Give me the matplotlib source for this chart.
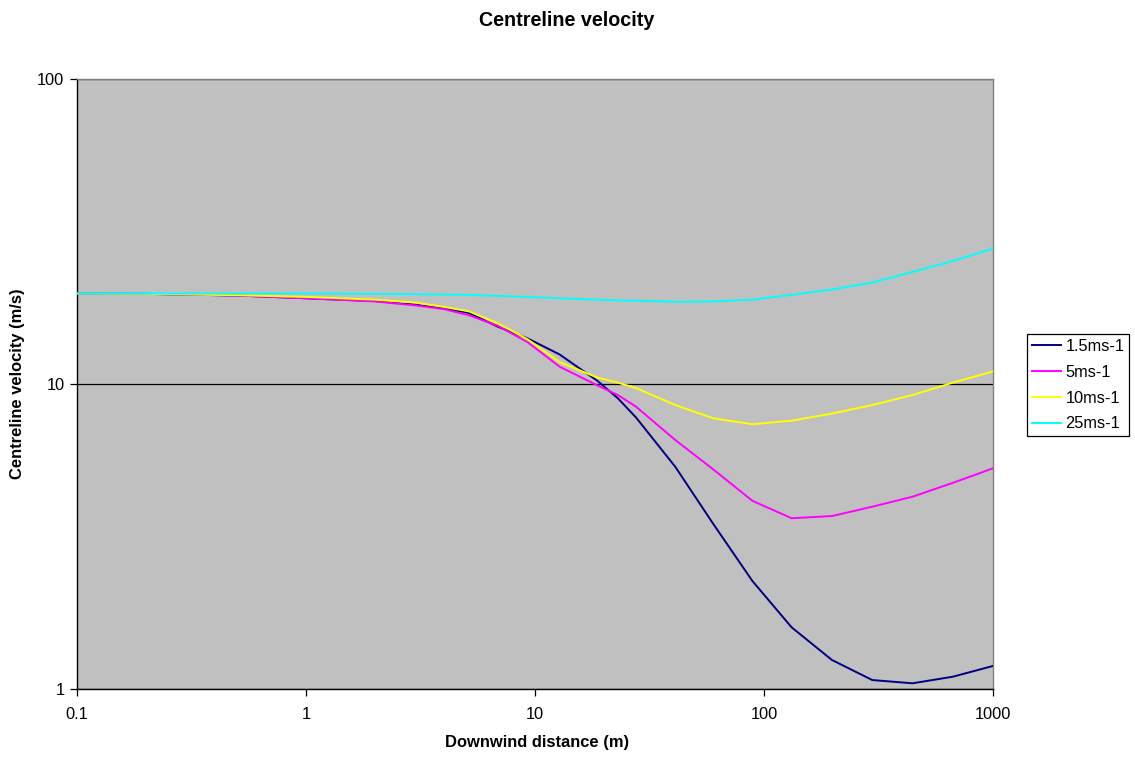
import matplotlib
matplotlib.use("Agg")
import matplotlib.pyplot as plt
from matplotlib.ticker import FixedLocator, FuncFormatter, NullLocator

plt.rcParams['font.family'] = ['Liberation Sans', 'DejaVu Sans']

# Downwind distance (m)
distance = [0.1, 0.2, 0.5, 1, 2, 3, 4, 5.15, 6.9, 9.3, 12.8, 18.7, 23, 27.6,
            41, 60, 89, 132, 198, 297, 445, 667, 1000]

# Centreline velocity (m/s) for each wind speed
v_1p5 = [19.8, 19.75, 19.5, 19.1, 18.7, 18.2, 17.7, 17.1, 15.4, 14.1, 12.5,
         10.25, 8.98, 7.77, 5.35, 3.48, 2.26, 1.593, 1.245, 1.07, 1.044,
         1.097, 1.19]
v_5 = [19.8, 19.75, 19.5, 19.1, 18.65, 18.1, 17.6, 16.8, 15.5, 13.7, 11.4,
       9.9, 9.2, 8.43, 6.55, 5.25, 4.14, 3.63, 3.69, 3.96, 4.27, 4.74, 5.29]
v_10 = [19.8, 19.75, 19.55, 19.3, 18.9, 18.5, 17.9, 17.3, 15.8, 14.0, 11.8,
        10.5, 10.1, 9.7, 8.53, 7.72, 7.38, 7.58, 8.0, 8.53, 9.2, 10.1, 11.0]
v_25 = [19.8, 19.8, 19.8, 19.8, 19.75, 19.7, 19.65, 19.6, 19.45, 19.3, 19.1,
        18.9, 18.8, 18.75, 18.6, 18.65, 18.9, 19.6, 20.4, 21.5, 23.3, 25.3,
        27.8]

series_labels = ['1.5ms-1', '5ms-1', '10ms-1', '25ms-1']
series_colors = ['#000080', '#FF00FF', '#FFFF00', '#00FFFF']
series_values = [v_1p5, v_5, v_10, v_25]

x_ticks = [0.1, 1, 10, 100, 1000]
y_ticks = [1, 10, 100]

W, H = 1135, 758
fig = plt.figure(figsize=(W / 100, H / 100), dpi=100, facecolor='white')
left, right, top, bottom = 77, 993, 79, 689
ax = fig.add_axes([left / W, 1 - bottom / H, (right - left) / W, (bottom - top) / H])
ax.set_facecolor('#C0C0C0')

ax.set_xscale('log')
ax.set_yscale('log')
ax.set_xlim(0.1, 1000)
ax.set_ylim(1, 100)

# Horizontal major gridlines
for yv in y_ticks:
    ax.axhline(yv, color='black', lw=0.9, zorder=1)

lines = []
for vals, lab, col in zip(series_values, series_labels, series_colors):
    ln, = ax.plot(distance, vals, color=col, lw=1.4, label=lab, zorder=3,
                  solid_joinstyle='miter')
    lines.append(ln)

fmt = FuncFormatter(lambda v, p: '%g' % v)
ax.xaxis.set_major_locator(FixedLocator(x_ticks))
ax.yaxis.set_major_locator(FixedLocator(y_ticks))
ax.xaxis.set_minor_locator(NullLocator())
ax.yaxis.set_minor_locator(NullLocator())
ax.xaxis.set_major_formatter(fmt)
ax.yaxis.set_major_formatter(fmt)
ax.tick_params(axis='both', direction='out', length=5, width=0.9,
               labelsize=11.8, colors='black')
ax.tick_params(axis='x', pad=8)
ax.tick_params(axis='y', pad=4)

for side in ['left', 'bottom']:
    ax.spines[side].set_color('black')
    ax.spines[side].set_linewidth(1.0)
for side in ['top', 'right']:
    ax.spines[side].set_color('#808080')
    ax.spines[side].set_linewidth(1.0)

fig.text(567 / W, 1 - 21 / H, 'Centreline velocity', ha='center', va='center',
         fontsize=14.2, fontweight='bold')
fig.text(537 / W, 1 - 742 / H, 'Downwind distance (m)', ha='center', va='center',
         fontsize=11.9, fontweight='bold')
fig.text(18 / W, 1 - 384 / H, 'Centreline velocity (m/s)', ha='center', va='center',
         rotation=90, fontsize=11.9, fontweight='bold')

leg = fig.legend(handles=lines, labels=series_labels, loc='upper left',
                 bbox_to_anchor=(1027 / W, 1 - 334 / H), frameon=True,
                 fancybox=False, edgecolor='black', facecolor='white',
                 framealpha=1, fontsize=11.8, handlelength=1.8,
                 handletextpad=0.25, borderpad=0.3, borderaxespad=0,
                 labelspacing=0.66)
leg.get_frame().set_linewidth(0.9)

fig.savefig('out.png', dpi=100, facecolor='white')
